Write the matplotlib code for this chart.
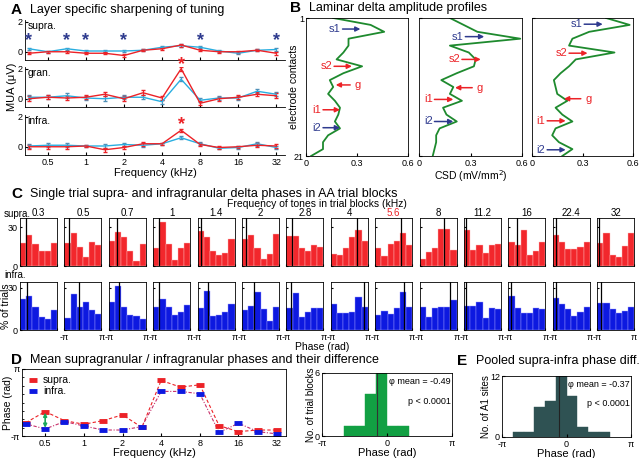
import numpy as np
import matplotlib
matplotlib.use('Agg')
import matplotlib.pyplot as plt
from matplotlib.lines import Line2D

plt.rcParams['font.family'] = ['Liberation Sans', 'DejaVu Sans']
plt.rcParams['xtick.direction'] = 'in'
plt.rcParams['ytick.direction'] = 'in'
plt.rcParams['xtick.major.size'] = 2
plt.rcParams['ytick.major.size'] = 2
plt.rcParams['xtick.minor.size'] = 1.5
plt.rcParams['ytick.minor.size'] = 1.5
plt.rcParams['xtick.labelsize'] = 6.5
plt.rcParams['ytick.labelsize'] = 6.5
plt.rcParams['axes.linewidth'] = 0.6
plt.rcParams['xtick.major.pad'] = 2
plt.rcParams['ytick.major.pad'] = 1.5

# ---------------- data ----------------
freqs = [0.354, 0.5, 0.707, 1, 1.41, 2, 2.83, 4, 5.66, 8, 11.3, 16, 22.6, 32]
freq_names = ['0.3', '0.5', '0.7', '1', '1.4', '2', '2.8', '4', '5.6', '8',
              '11.2', '16', '22.4', '32']
axis_freqs = [0.5, 1, 2, 4, 8, 16, 32]

# A: MUA tuning (red = one condition, cyan = other)
supra_red = [-0.1, 0.0, 0.0, -0.1, -0.1, -0.25, 0.1, 0.2, 0.45, 0.1, 0.0, 0.0, 0.1, -0.1]
supra_cyan = [0.2, 0.0, 0.2, 0.05, 0.05, 0.05, 0.1, 0.3, 0.4, 0.3, 0.05, -0.1, 0.1, 0.15]
supra_err = [0.08, 0.05, 0.08, 0.08, 0.06, 0.08, 0.06, 0.08, 0.1, 0.08, 0.06, 0.08, 0.06, 0.1]
gran_red = [0.0, 0.1, 0.05, 0.1, 0.3, 0.0, 0.4, 0.05, 2.0, -0.3, 0.0, 0.1, 0.3, 0.2]
gran_cyan = [0.1, 0.1, 0.2, 0.05, 0.0, 0.1, 0.1, -0.2, 1.3, -0.1, 0.05, 0.05, 0.5, 0.3]
gran_err = [0.15, 0.12, 0.15, 0.12, 0.15, 0.15, 0.15, 0.12, 0.12, 0.12, 0.12, 0.12, 0.15, 0.15]
infra_red = [0.0, 0.0, 0.0, 0.05, -0.2, -0.05, 0.2, 0.2, 1.1, 0.15, -0.05, 0.0, 0.1, 0.05]
infra_cyan = [0.05, 0.1, 0.1, 0.05, 0.05, 0.15, 0.1, 0.2, 0.6, 0.2, -0.1, -0.05, 0.2, -0.05]
infra_err = [0.12, 0.12, 0.12, 0.08, 0.12, 0.12, 0.12, 0.08, 0.1, 0.1, 0.08, 0.08, 0.12, 0.12]
stars_supra = [0.354, 0.707, 1, 2, 8, 32]
stars_gran = [5.66]
stars_infra = [5.66]

# B: laminar delta amplitude profiles (contacts 1..21)
contacts = np.arange(1, 22)
prof1 = [0.16, 0.38, 0.46, 0.25, 0.25, 0.22, 0.18, 0.33, 0.22, 0.14, 0.16, 0.13,
         0.17, 0.2, 0.19, 0.17, 0.2, 0.13, 0.1, 0.1, 0.03]
prof2 = [0.18, 0.26, 0.34, 0.59, 0.18, 0.29, 0.33, 0.32, 0.22, 0.13, 0.2, 0.18,
         0.25, 0.14, 0.16, 0.22, 0.12, 0.1, 0.1, 0.09, 0.08]
prof3 = [0.44, 0.58, 0.34, 0.24, 0.22, 0.49, 0.26, 0.22, 0.17, 0.13, 0.14, 0.15,
         0.21, 0.14, 0.18, 0.24, 0.14, 0.12, 0.16, 0.24, 0.18]
# arrows: label, contact, tail x, tip x
arrows1 = [('s1', 2.6, 0.215, 0.32), ('s2', 8.0, 0.165, 0.27), ('g', 10.7, 0.26, 0.175),
           ('i1', 14.3, 0.10, 0.20), ('i2', 16.9, 0.10, 0.20)]
arrows2 = [('s1', 3.7, 0.27, 0.38), ('s2', 7.0, 0.25, 0.36), ('g', 11.1, 0.31, 0.21),
           ('i1', 12.8, 0.09, 0.20), ('i2', 16.0, 0.09, 0.20)]
arrows3 = [('s1', 1.9, 0.31, 0.42), ('s2', 6.1, 0.22, 0.33), ('g', 12.7, 0.29, 0.19),
           ('i1', 15.9, 0.09, 0.20), ('i2', 20.1, 0.09, 0.20)]

# C: single trial phase histograms (% of trials, 6 bins -pi..pi)
supra_hist = [
    [17.8, 23.7, 17, 11.5, 11.5, 17.8], [17.8, 25.4, 14.5, 6.9, 18.6, 16.5],
    [19, 26, 22.4, 11.5, 3.8, 17.3], [13.5, 33.6, 17, 4.3, 13.5, 17.8],
    [26.7, 22.4, 11.5, 8.4, 10.2, 21.1], [21.1, 24.2, 14, 5.1, 9.4, 25],
    [22.9, 22.9, 14, 11.5, 16.5, 14.8], [9.4, 8.4, 14, 22.1, 27.5, 19],
    [14, 7.6, 17.3, 19.6, 25.4, 16.5], [5.1, 10.9, 14, 28.5, 28.5, 12.7],
    [27.5, 12.2, 16.5, 9.7, 16.5, 17], [18.6, 16.5, 28, 8.4, 11.5, 18.6],
    [24.2, 18.6, 13.2, 13.2, 14.5, 18.3], [17.8, 25.4, 8.4, 7.1, 15.8, 25.4]]
supra_mean = [-2.09, -2.3, -1.74, -2.19, -2.52, -2.46, -2.23, 1.26, 1.22, 0.97,
              -2.8, -1.71, -2.68, -2.8]
infra_hist = [
    [21.7, 24.3, 16.5, 9, 7.8, 14.2], [8.3, 25.3, 16.5, 19.6, 14.2, 11.3],
    [19.6, 31.4, 16.5, 10.6, 9.9, 7.6], [16, 21.7, 16, 10.6, 13, 17.7],
    [15.4, 27.7, 9.9, 10.6, 12.5, 18.4], [14.2, 17.3, 26.7, 14.7, 6.6, 16],
    [15.8, 26, 9, 13, 15.4, 15.8], [18.4, 12.3, 11.8, 13, 23.6, 16.5],
    [10.6, 13.7, 11.1, 15.8, 27.2, 16.5], [16, 9, 15.8, 16.5, 16.5, 21.3],
    [17.3, 17.3, 20, 8.7, 15.8, 14.9], [24.3, 15.8, 12.3, 12.3, 15.4, 14.9],
    [22.9, 18.2, 14.7, 9.9, 13, 16.5], [18.9, 18.9, 14.9, 11.8, 13.7, 16]]
infra_mean = [-1.98, -0.62, -1.46, -2.19, -1.45, -1.05, -2.29, 2.44, 1.8, 1.97,
              -2.82, -2.69, -2.66, -2.57]

# D: mean phases
supra_phase = [-1.89, -0.85, -1.70, -2.04, -1.70, -1.16, -2.33, 2.07, 1.44, 1.66,
               -2.17, -2.73, -2.58, -2.58]
infra_phase = [-2.01, -2.48, -1.79, -2.20, -2.58, -2.58, -2.26, 1.04, 1.04, 0.82,
               -2.80, -1.95, -2.73, -2.95]

# D right / E: phase difference histograms (bins of pi/6)
diff_edges = np.arange(-4, 3) * np.pi / 6
diff_counts = [1, 1, 4, 6, 1, 1]
diff_mean = -0.49
pool_edges = np.arange(-5, 5) * np.pi / 6
pool_counts = [1, 1, 6, 7, 12, 8, 2, 1, 1]
pool_mean = -0.37

RED = '#ec2227'
CYAN = '#2aaee0'
DBLUE = '#2e3a8e'
HRED = '#f2272c'
HBLUE = '#0d19e0'
GREEN = '#1e8a2e'

W, H = 640, 458
fig = plt.figure(figsize=(W / 100, H / 100), dpi=100)


def ax_px(l, t, r, b):
    return fig.add_axes([l / W, 1 - b / H, (r - l) / W, (b - t) / H])


def label(x, y, letter, title):
    fig.text(x / W, 1 - y / H, letter, fontsize=11, fontweight='bold', va='center')
    fig.text((x + 19) / W, 1 - y / H, title, fontsize=9, va='center')


# ---------------- A ----------------
label(11, 10, 'A', 'Layer specific sharpening of tuning')
rows_a = [('supra.', supra_red, supra_cyan, supra_err, stars_supra, DBLUE, 0.75, 19.5, 60),
          ('gran.', gran_red, gran_cyan, gran_err, stars_gran, RED, 2.25, 66.5, 107),
          ('infra.', infra_red, infra_cyan, infra_err, stars_infra, RED, 1.5, 114.5, 155)]
for k, (name, red, cyan, err, stars, scol, sy, top, bot) in enumerate(rows_a):
    ax = ax_px(25, top, 285, bot)
    ax.errorbar(freqs, cyan, yerr=err, color=CYAN, lw=1, capsize=1.5, elinewidth=0.8,
                ecolor='#4f90b8')
    ax.errorbar(freqs, red, yerr=err, color=RED, lw=1, capsize=1.5, elinewidth=0.8)
    for s in stars:
        ax.text(s, sy, '*', color=scol, fontsize=13, ha='center', va='center',
                fontweight='bold', clip_on=False)
    ax.set_xscale('log')
    ax.set_xlim(0.33, 37.5)
    ax.set_ylim(-0.55, 2.15)
    ax.set_yticks([0, 2])
    ax.set_xticks(axis_freqs)
    ax.xaxis.set_minor_locator(plt.NullLocator())
    ax.spines['top'].set_visible(False)
    ax.spines['right'].set_visible(False)
    ax.text(0.01, 0.76, name, transform=ax.transAxes, fontsize=7.5)
    if k < 2:
        ax.set_xticklabels([])
    else:
        ax.set_xticklabels([str(f) for f in axis_freqs])
        ax.set_xlabel('Frequency (kHz)', fontsize=8, labelpad=1)
    if k == 1:
        ax.set_ylabel('MUA (\u03bcV)', fontsize=8, labelpad=1)

# ---------------- B ----------------
label(290, 8, 'B', 'Laminar delta amplitude profiles')
b_boxes = [(306, 408), (419, 522), (532, 633)]
for k, (prof, arrows, (l, r)) in enumerate(zip([prof1, prof2, prof3],
                                                [arrows1, arrows2, arrows3], b_boxes)):
    ax = ax_px(l, 18, r, 156)
    ax.plot(prof, contacts, color=GREEN, lw=1.3)
    for name, c, x0, x1 in arrows:
        col = DBLUE if name in ('s1', 'i2') else RED
        ax.annotate('', xy=(x1, c), xytext=(x0, c),
                    arrowprops=dict(arrowstyle='-|>', color=col, lw=1.1,
                                    mutation_scale=7, shrinkA=0, shrinkB=0))
        if x1 > x0:
            ax.text(x0 - 0.01, c, name, color=col, fontsize=8, ha='right', va='center')
        else:
            ax.text(x0 + 0.025, c, name, color=col, fontsize=8, ha='left', va='center')
    ax.set_xlim(0, 0.6)
    ax.set_ylim(21, 1)
    ax.set_xticks([0, 0.3, 0.6])
    ax.set_xticklabels(['0', '0.3', '0.6'])
    ax.set_yticks([1, 21])
    if k == 0:
        ax.set_yticklabels(['1', '21'])
        ax.set_ylabel('electrode contacts', fontsize=7.5, labelpad=-4)
    else:
        ax.set_yticklabels([])
    if k == 1:
        ax.set_xlabel('CSD (mV/mm$^2$)', fontsize=7.5, labelpad=0)

# ---------------- C ----------------
label(11, 194, 'C', 'Single trial supra- and infragranular delta phases in AA trial blocks')
fig.text(317 / W, 1 - 204 / H, 'Frequency of tones in trial blocks (kHz)', fontsize=7.5,
         ha='center', va='center')
fig.text(4 / W, 1 - 214 / H, 'supra.', fontsize=7, va='center')
fig.text(4 / W, 1 - 275 / H, 'infra.', fontsize=7, va='center')
centers = (np.arange(6) + 0.5) * 2 * np.pi / 6 - np.pi
for i in range(14):
    l = 20 + 44.4 * i
    for row, (hist, means, col, ecol, top, bot, ymax) in enumerate(
            [(supra_hist, supra_mean, HRED, '#fbb', 218, 266, 37),
             (infra_hist, infra_mean, HBLUE, '#99f', 282, 330, 34)]):
        ax = ax_px(l, top, l + 37, bot)
        ax.bar(centers, hist[i], width=2 * np.pi / 6, color=col, edgecolor=ecol, lw=0.3)
        ax.axvline(means[i], color='k', lw=0.9)
        ax.set_xlim(-np.pi, np.pi)
        ax.set_ylim(0, ymax)
        ax.set_yticks([0, 30])
        ax.tick_params(length=1.5)
        ax.set_xticks([-np.pi, np.pi])
        if i == 0:
            ax.set_yticklabels(['0', '30'])
        else:
            ax.set_yticklabels([])
        if row == 0:
            ax.set_xticklabels([])
            tcol = RED if freq_names[i] == '5.6' else 'k'
            ax.set_title(freq_names[i], fontsize=7, color=tcol, pad=0.8)
        else:
            if i == 0:
                ax.set_xticklabels([])
                ax.set_ylabel('% of trials', fontsize=7.5, labelpad=-2)
            else:
                ax.set_xticklabels(['-\u03c0', '\u03c0'])
fig.text(322 / W, 1 - 347 / H, 'Phase (rad)', fontsize=7.5, ha='center', va='center')

# ---------------- D ----------------
label(11, 360, 'D', 'Mean supragranular / infragranular phases and their difference')
ax = ax_px(22, 369, 286, 436)
ax.plot(freqs, supra_phase, ls='--', color=RED, lw=0.8, dashes=(3, 2))
ax.plot(freqs, infra_phase, ls='--', color='#c8306a', lw=0.8, dashes=(3, 1.5, 1, 1.5))
ax.plot(freqs, supra_phase, ls='none', marker='_', ms=6, mew=3.5, color=RED)
ax.plot(freqs, infra_phase, ls='none', marker='_', ms=6, mew=3.5, color=HBLUE)
ax.annotate('', xy=(freqs[1], infra_phase[1] + 0.1), xytext=(freqs[1], supra_phase[1] - 0.1),
            arrowprops=dict(arrowstyle='<|-|>', color='#1aa85a', lw=1.2, mutation_scale=5,
                            shrinkA=0, shrinkB=0))
ax.set_xscale('log')
ax.set_xlim(0.33, 37.5)
ax.set_ylim(-np.pi, np.pi)
ax.set_xticks(axis_freqs)
ax.set_xticklabels([str(f) for f in axis_freqs])
ax.xaxis.set_minor_locator(plt.NullLocator())
ax.set_yticks([-np.pi, np.pi])
ax.set_yticklabels(['-\u03c0', '\u03c0'])
ax.set_yticks(np.arange(-3, 4) * np.pi / 4, minor=True)
ax.set_xlabel('Frequency (kHz)', fontsize=8, labelpad=0)
ax.set_ylabel('Phase (rad)', fontsize=7.5, labelpad=-2)
handles = [Line2D([], [], ls='none', marker='_', ms=6, mew=3.5, color=RED),
           Line2D([], [], ls='none', marker='_', ms=6, mew=3.5, color=HBLUE)]
ax.legend(handles, ['supra.', 'infra.'], loc='upper left', frameon=False, fontsize=7.5,
          handlelength=1, handletextpad=0.4, borderaxespad=0.2, labelspacing=0.1)

ax = ax_px(322, 373, 452, 436)
ax.bar(diff_edges[:-1], diff_counts, width=np.diff(diff_edges), align='edge',
       color='#12a043', edgecolor='#12a043', lw=0.3)
ax.axvline(diff_mean, color='#333333', lw=0.8)
ax.set_xlim(-np.pi, np.pi)
ax.set_ylim(0, 6)
ax.set_yticks([0, 6])
ax.set_xticks([-np.pi, 0, np.pi])
ax.set_xticklabels(['-\u03c0', '0', '\u03c0'])
ax.set_xlabel('Phase (rad)', fontsize=8, labelpad=0)
ax.set_ylabel('No. of trial blocks', fontsize=7, labelpad=-1)
ax.text(0.99, 0.86, '\u03c6 mean = %.2f' % diff_mean, transform=ax.transAxes, fontsize=6.5,
        ha='right', va='center')
ax.text(0.99, 0.55, 'p < 0.0001', transform=ax.transAxes, fontsize=6.5, ha='right',
        va='center')

# ---------------- E ----------------
label(457, 361, 'E', 'Pooled supra-infra phase diff.')
ax = ax_px(502, 376, 631, 437)
ax.bar(pool_edges[:-1], pool_counts, width=np.diff(pool_edges), align='edge',
       color='#2f5253', edgecolor='#2f5253', lw=0.3)
ax.axvline(pool_mean, color='#222222', lw=0.8)
ax.set_xlim(-np.pi, np.pi)
ax.set_ylim(0, 12)
ax.set_yticks([0, 12])
ax.set_xticks([-np.pi, 0, np.pi])
ax.set_xticklabels(['-\u03c0', '0', '\u03c0'])
ax.set_xlabel('Phase (rad)', fontsize=8, labelpad=0)
ax.set_ylabel('No. of A1 sites', fontsize=7, labelpad=-1)
ax.text(0.99, 0.86, '\u03c6 mean = %.2f' % pool_mean, transform=ax.transAxes, fontsize=6.5,
        ha='right', va='center')
ax.text(0.99, 0.55, 'p < 0.0001', transform=ax.transAxes, fontsize=6.5, ha='right',
        va='center')

fig.savefig('out.png', dpi=100)
